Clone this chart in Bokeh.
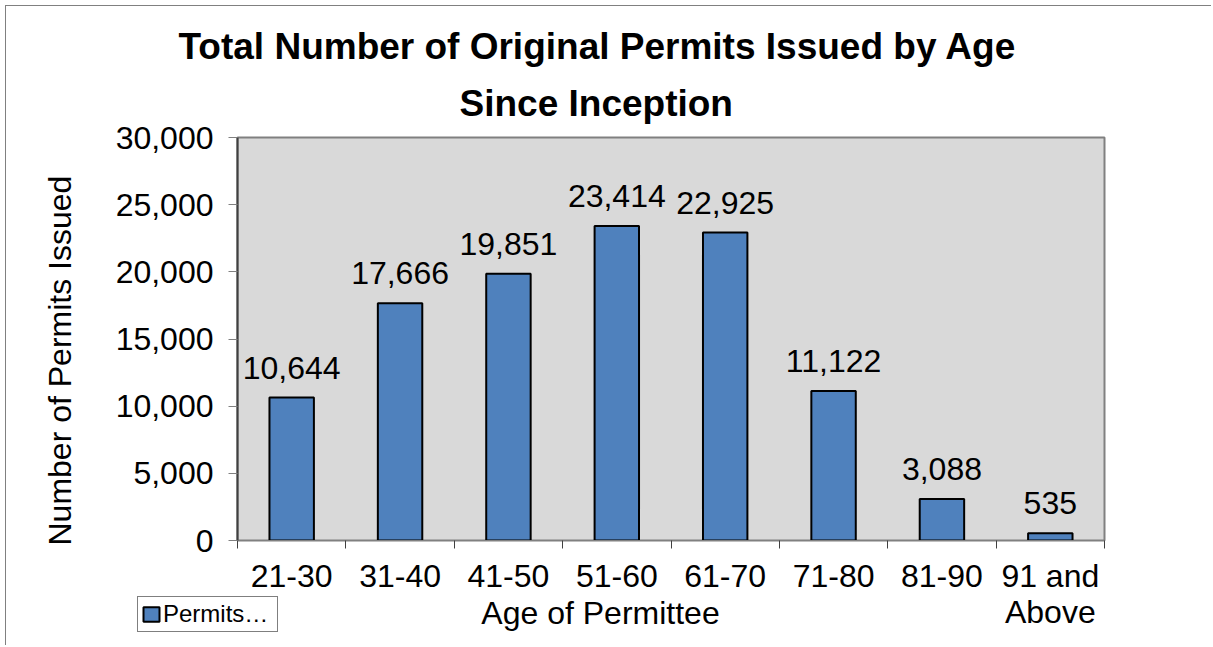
from bokeh.plotting import figure
from bokeh.models import (Range1d, FixedTicker, NumeralTickFormatter, ColumnDataSource,
                          LabelSet, Label, Legend, LegendItem, Title, CustomJSTickFormatter)
from bokeh.core.properties import value
from bokeh.embed import file_html
from bokeh.resources import INLINE

# ---- data ----
categories = ["21-30", "31-40", "41-50", "51-60", "61-70", "71-80", "81-90", "91 and\nAbove"]
permits = [10644, 17666, 19851, 23414, 22925, 11122, 3088, 535]
y_ticks = [0, 5000, 10000, 15000, 20000, 25000, 30000]
title_lines = ["Total Number of Original Permits Issued by Age", "Since Inception"]
x_title = "Age of Permittee"
y_title = "Number of Permits Issued"
series_name = "Permits\u2026"

FONT = "Liberation Sans"
BAR_STYLE = dict(fill_color="#4f81bd", line_color="black", line_width=2)
n = len(categories)
positions = [i + 0.5 for i in range(n)]
boundaries = list(range(n + 1))

source = ColumnDataSource(dict(x=positions, top=permits,
                               label=[f"{v:,}" for v in permits]))

# ================= main chart =================
p = figure(width=1206, height=640, output_backend="svg", toolbar_location=None,
           x_range=Range1d(0, n), y_range=Range1d(0, 30000),
           min_border_left=231, min_border_right=108,
           min_border_top=131, min_border_bottom=106,
           background_fill_color="#d9d9d9", border_fill_color="white",
           outline_line_color="#808080", outline_line_width=2)
p.xgrid.visible = False
p.ygrid.visible = False
p.styles = {"margin-left": "5px", "margin-top": "5px",
            "border-top": "1px solid #808080", "border-left": "1px solid #808080"}

# titles (bottom line first so it sits nearest the frame)
t2 = Title(text=title_lines[1], align="left", offset=222, standoff=28,
           text_font=FONT, text_font_size="37px", text_font_style="bold", text_color="black")
t1 = Title(text=title_lines[0], align="left", offset=-59, standoff=0,
           text_font=FONT, text_font_size="37px", text_font_style="bold", text_color="black")
p.add_layout(t2, "above")
p.add_layout(t1, "above")

bars = p.vbar(x="x", top="top", width=0.41, source=source, **BAR_STYLE)

labels = LabelSet(x="x", y="top", text="label", source=source,
                  text_align="center", text_baseline="alphabetic", y_offset=19,
                  text_font=value(FONT), text_font_size="32px", text_color="black")
p.add_layout(labels)

# x axis: tick marks at category boundaries (minor ticks), labels at centres
xa = p.xaxis[0]
xa.ticker = FixedTicker(ticks=positions, minor_ticks=boundaries)
xa.formatter = CustomJSTickFormatter(args=dict(labels=categories),
                                     code="return labels[Math.round(tick - 0.5)] || ''")
xa.major_tick_out = 0
xa.major_tick_in = 0
xa.minor_tick_out = 8
xa.minor_tick_in = 0
xa.minor_tick_line_color = "#404040"
xa.axis_line_color = "#808080"
xa.axis_line_width = 1
xa.major_label_standoff = 9
xa.major_label_text_font = FONT
xa.major_label_text_font_size = "32px"
xa.major_label_text_line_height = 1.0
xa.major_label_text_color = "black"

# y axis
ya = p.yaxis[0]
ya.ticker = FixedTicker(ticks=y_ticks)
ya.formatter = NumeralTickFormatter(format="0,0")
ya.major_tick_out = 9
ya.major_tick_in = 0
ya.minor_tick_out = 0
ya.minor_tick_in = 0
ya.major_tick_line_color = "#808080"
ya.axis_line_color = "#404040"
ya.axis_line_width = 2
ya.major_label_standoff = 15
ya.major_label_text_font = FONT
ya.major_label_text_font_size = "32px"
ya.major_label_text_color = "black"

yt = Title(text=y_title, align="left", offset=-5, standoff=68, vertical_align="middle",
           text_font=FONT, text_font_size="32px", text_font_style="normal", text_color="black")
p.add_layout(yt, "left")

# ================= bottom strip: axis title + legend (overlaid, transparent) =================
p2 = figure(width=1206, height=50, output_backend="svg", toolbar_location=None,
            x_range=Range1d(0, n), y_range=Range1d(0, 30000),
            x_axis_location=None, y_axis_location=None, min_border=0,
            outline_line_color=None, background_fill_alpha=0, border_fill_alpha=0)
p2.xgrid.visible = False
p2.ygrid.visible = False
p2.styles = {"position": "absolute", "left": "6px", "top": "590px"}

# renderer used only to supply the legend swatch (not drawn itself)
legend_bars = p2.vbar(x="x", top="top", width=0.41, source=source, visible=False, **BAR_STYLE)

p2.add_layout(Label(x=594, y=28, x_units="screen", y_units="screen", text=x_title,
                    text_align="center", text_baseline="middle",
                    text_font=FONT, text_font_size="32px", text_color="black"))

legend = Legend(items=[LegendItem(label=series_name, renderers=[legend_bars])],
                location=(131, 8), orientation="vertical",
                border_line_color="black", border_line_width=1,
                background_fill_color="white", background_fill_alpha=1,
                inactive_fill_alpha=0,
                label_text_font=FONT, label_text_font_size="24px", label_text_color="black",
                glyph_width=20, glyph_height=18, padding=3, margin=0,
                label_width=111, label_standoff=2)
p2.add_layout(legend)

open("out.html", "w").write(file_html([p, p2], INLINE))
